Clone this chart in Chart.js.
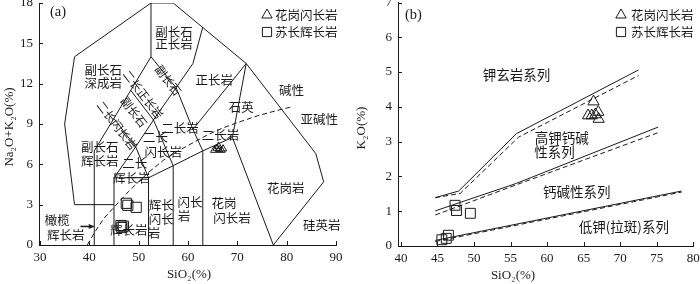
<!DOCTYPE html>
<html>
<head>
<meta charset="utf-8">
<script src="https://cdn.jsdelivr.net/npm/chart.js@4.4.1/dist/chart.umd.min.js"></script>
<style>
  html, body { margin: 0; padding: 0; background: #fff; }
  #wrap { position: relative; width: 700px; height: 284px; }
  .box { position: absolute; top: 0; width: 350px; height: 284px; }
</style>
</head>
<body>
<div id="wrap">
  <div class="box" style="left:0"><canvas id="tas" width="350" height="284"></canvas></div>
  <div class="box" style="left:350px"><canvas id="k2o" width="350" height="284"></canvas></div>
</div>
<script>
// ---------- (a) TAS diagram, [SiO2, Na2O+K2O] ----------
const tasXTicks = [30, 40, 50, 60, 70, 80, 90];
const tasYTicks = [0, 3, 6, 9, 12, 15, 18];

// field boundaries (plutonic TAS)
const tasOuter = [[37, 3], [35, 9], [37, 14], [52.5, 18], [57, 18], [71.8, 13.5], [85.9, 6.8], [87.5, 4.7], [77.3, 0]];
const tasInner = [
  [[37, 3], [45, 3]],
  [[41, 0], [41, 7]],
  [[45, 0], [45, 5]],
  [[52, 0], [52, 5]],
  [[57, 0], [57, 5.9]],
  [[63, 0], [63, 7]],
  [[45, 5], [52, 5], [57, 5.9], [63, 7], [69, 8], [77.3, 0]],
  [[41, 7], [52.5, 14], [52.5, 18]],
  [[45, 5], [49.4, 7.3], [53, 9.3], [57.6, 11.7], [61, 13.5], [63, 16.2]],
  [[45, 9.4], [49.4, 7.3], [52, 5]],
  [[48.4, 11.5], [53, 9.3], [57, 5.9]],
  [[52.5, 14], [57.6, 11.7], [61, 8.6], [63, 7]],
  [[61, 8.6], [71.8, 13.5], [69, 8]]
];
// alkaline / subalkaline divide
const ibSiO2 = [39.6, 41, 43, 45, 48, 50, 52, 55, 58, 61, 64, 67, 70, 74, 78, 81.3];
const ibAlk  = [0, 0.9, 2.0, 2.8, 4.0, 4.7, 5.4, 6.3, 7.0, 7.6, 8.2, 8.7, 9.1, 9.6, 10.0, 10.3];

// samples
const grdSiO2A = [65.3, 65.8, 66.3, 66.8, 66.2, 67.1];
const grdAlkA  = [7.05, 7.2, 7.1, 7.05, 7.35, 7.15];
const gabSiO2A = [47.5, 47.8, 49.5, 46.4, 46.6, 46.9];
const gabAlkA  = [3.1, 2.95, 2.8, 1.45, 1.3, 1.4];

const arrowA = [[38.2, 1.38], [41.1, 1.38]];

const tasLabels = [
  ['副长石', 57.15, 15.85], ['正长岩', 57.15, 14.95],
  ['副长石', 42.8, 13.0], ['深成岩', 42.8, 12.0],
  ['正长岩', 65.3, 12.25],
  ['碱性', 81.0, 11.5], ['亚碱性', 86.6, 9.33],
  ['石英', 70.8, 10.27], ['二长岩', 66.6, 8.17],
  ['二长岩', 58.4, 8.66],
  ['二长', 53.4, 8.04], ['闪长岩', 55.0, 6.93],
  ['副长石', 42.1, 7.3], ['辉长岩', 42.1, 6.2],
  ['二长', 49.2, 6.05], ['辉长岩', 48.6, 4.95],
  ['辉长岩', 48.0, 1.11],
  ['辉长', 54.6, 2.97], ['闪长', 54.6, 1.9], ['岩', 53.1, 0.87],
  ['闪长', 60.4, 3.15], ['岩', 59.2, 2.15],
  ['花岗', 67.3, 3.1], ['闪长岩', 68.9, 1.98],
  ['花岗岩', 79.8, 4.2],
  ['硅英岩', 87.1, 1.48],
  ['橄榄', 33.5, 1.86], ['辉长岩', 35.2, 0.74],
  ['副长石', 56.0, 12.25, 52.5], ['二长正长岩', 50.9, 11.2, 52.5],
  ['副长石', 49.05, 9.9, 52.5], ['二长闪长岩', 45.6, 8.9, 52.5]
];

// ---------- (b) SiO2 - K2O ----------
const kXTicks = [40, 45, 50, 55, 60, 65, 70, 75, 80];
const kYTicks = [0, 1, 2, 3, 4, 5, 6, 7];

const shoSolidX = [44.7, 47.9, 55.8, 72.5];
const shoSolidY = [1.39, 1.58, 3.23, 5.06];
const shoDashX  = [44.7, 48.1, 56.1, 72.5];
const shoDashY  = [1.39, 1.51, 3.13, 4.9];
const hkSolidX  = [44.7, 55.8, 75.2];
const hkSolidY  = [1.01, 1.8, 3.42];
const hkDashX   = [44.7, 55.8, 75.2];
const hkDashY   = [0.89, 1.76, 3.26];
const lowSolidX = [44.7, 78.4];
const lowSolidY = [0.16, 1.58];
const lowDashX  = [44.7, 78.4];
const lowDashY  = [0.13, 1.55];

const grdSiO2B = [66.35, 65.6, 66.1, 66.6, 67.0, 67.05];
const grdK2OB  = [4.15, 3.75, 3.75, 3.78, 3.85, 3.65];
const gabSiO2B = [47.4, 47.6, 49.5, 45.6, 46.2, 46.5];
const gabK2OB  = [1.17, 1.02, 0.94, 0.18, 0.22, 0.31];

const kLabels = [
  ['钾玄岩系列', 55.8, 4.93],
  ['高钾钙碱', 62.0, 3.12], ['性系列', 61.0, 2.7],
  ['钙碱性系列', 64.05, 1.56],
  ['低钾(拉斑)系列', 70.5, 0.55]
];

const legendNames = ['花岗闪长岩', '苏长辉长岩'];

// ---------- helpers ----------
const ink = '#1a1a1a';
const cjk = '"Noto Sans CJK SC", sans-serif';
const serif = '"Liberation Serif", "DejaVu Serif", serif';

function lineSet(xs, ys, dash) {
  return {
    data: xs.map((x, i) => ({ x, y: ys[i] })),
    showLine: true, pointRadius: 0, borderColor: ink, borderWidth: 1,
    borderDash: dash || [], tension: 0, fill: false
  };
}
function polySet(pts, dash) {
  return lineSet(pts.map(p => p[0]), pts.map(p => p[1]), dash);
}
function markSet(xs, ys, style, r) {
  return {
    data: xs.map((x, i) => ({ x, y: ys[i] })),
    showLine: false, pointStyle: style, pointRadius: r, pointBorderWidth: 1,
    borderColor: ink, pointBorderColor: ink, backgroundColor: 'rgba(0,0,0,0)',
    pointBackgroundColor: 'rgba(0,0,0,0)'
  };
}
function axis(min, max, ticks, size, isX) {
  return {
    type: 'linear', min, max,
    afterBuildTicks: s => { s.ticks = ticks.map(v => ({ value: v })); },
    afterFit: s => {
      if (isX) s.height = size; else s.width = size;
      // keep the plot area where it is; edge labels may overhang
      s.paddingTop = 0; s.paddingBottom = 0; s.paddingLeft = 0; s.paddingRight = 0;
    },
    grid: { display: false, drawTicks: false },
    border: { display: true, color: ink, width: 1 },
    ticks: {
      color: ink, padding: isX ? 5 : 6, maxRotation: 0, autoSkip: false,
      font: { family: serif, size: 13 }
    }
  };
}

function decor(cfg) {
  return {
    id: 'decor' + cfg.tag,
    afterDraw(chart) {
      const { ctx, chartArea: a, scales: { x, y } } = chart;
      ctx.save();
      // inward tick marks
      ctx.strokeStyle = ink; ctx.lineWidth = 1;
      ctx.beginPath();
      cfg.xTicks.forEach(v => {
        const p = Math.round(x.getPixelForValue(v)) + 0.5;
        ctx.moveTo(p, a.bottom); ctx.lineTo(p, a.bottom - 4);
      });
      cfg.yTicks.forEach(v => {
        const p = Math.round(y.getPixelForValue(v)) + 0.5;
        ctx.moveTo(a.left, p); ctx.lineTo(a.left + 4, p);
      });
      ctx.stroke();

      // field labels
      ctx.fillStyle = ink; ctx.textAlign = 'center'; ctx.textBaseline = 'middle';
      ctx.font = cfg.labelSize + 'px ' + cjk;
      cfg.labels.forEach(([t, sx, sy, rot]) => {
        const px = x.getPixelForValue(sx), py = y.getPixelForValue(sy);
        if (rot) {
          ctx.save(); ctx.translate(px, py); ctx.rotate(rot * Math.PI / 180);
          ctx.font = (cfg.labelSize - 1) + 'px ' + cjk;
          ctx.fillText(t, 0, 0); ctx.restore();
        } else {
          ctx.fillText(t, px, py);
        }
      });

      // arrow
      if (cfg.arrow) {
        const [p0, p1] = cfg.arrow;
        const x0 = x.getPixelForValue(p0[0]), x1 = x.getPixelForValue(p1[0]);
        const yy = y.getPixelForValue(p0[1]);
        ctx.beginPath(); ctx.lineWidth = 1.5;
        ctx.moveTo(x0, yy); ctx.lineTo(x1 - 4, yy); ctx.stroke();
        ctx.beginPath(); ctx.moveTo(x1, yy); ctx.lineTo(x1 - 6, yy - 2.5); ctx.lineTo(x1 - 6, yy + 2.5);
        ctx.closePath(); ctx.fill();
        ctx.lineWidth = 1;
      }

      // legend (hollow symbols)
      const L = cfg.legend;
      const dp = Chart.helpers && Chart.helpers.drawPoint;
      ['triangle', 'rect'].forEach((st, i) => {
        const ly = L.y + i * L.dy;
        ctx.save();
        ctx.strokeStyle = ink; ctx.lineWidth = 1; ctx.fillStyle = 'rgba(0,0,0,0)';
        if (dp) dp(ctx, { pointStyle: st, radius: st === 'rect' ? 6.5 : 6, borderWidth: 1 }, L.x, ly);
        ctx.restore();
        ctx.textAlign = 'left';
        ctx.font = '12.5px ' + cjk;
        ctx.fillStyle = ink;
        ctx.fillText(legendNames[i], L.tx, ly);
      });

      // panel tag
      ctx.font = '14.5px ' + serif;
      ctx.textAlign = 'left';
      ctx.fillText(cfg.tagText, cfg.tagPos[0], cfg.tagPos[1]);

      // axis titles
      ctx.font = '13px ' + serif;
      ctx.textAlign = 'center';
      ctx.fillText('SiO\u2082(%)', cfg.xTitle[0], cfg.xTitle[1]);
      ctx.save();
      ctx.translate(cfg.yTitle[0], cfg.yTitle[1]); ctx.rotate(-Math.PI / 2);
      ctx.fillText(cfg.yTitleText, 0, 0);
      ctx.restore();
      ctx.restore();
    }
  };
}

const commonPlugins = { legend: { display: false }, tooltip: { enabled: false } };

// ---------- chart (a) ----------
new Chart(document.getElementById('tas'), {
  type: 'scatter',
  data: {
    datasets: [
      polySet(tasOuter),
      ...tasInner.map(seg => polySet(seg)),
      lineSet(ibSiO2, ibAlk, [5, 3]),
      markSet(grdSiO2A, grdAlkA, 'triangle', 4.2),
      markSet(gabSiO2A, gabAlkA, 'rect', 7.2)
    ]
  },
  options: {
    responsive: false, animation: false,
    layout: { padding: { left: 0, top: 3, right: 14, bottom: 0 }, autoPadding: false },
    plugins: commonPlugins,
    scales: {
      x: axis(29.8, 90, tasXTicks, 39, true),
      y: axis(0, 18, tasYTicks, 39, false)
    }
  },
  plugins: [decor({
    tag: 'A', xTicks: tasXTicks, yTicks: tasYTicks, labels: tasLabels, labelSize: 12.5,
    arrow: arrowA,
    legend: { x: 267, y: 15, dy: 17, tx: 275 },
    tagText: '(a)', tagPos: [50, 12],
    xTitle: [189, 275], yTitle: [10, 127], yTitleText: 'Na\u2082O+K\u2082O(%)'
  })]
});

// ---------- chart (b) ----------
new Chart(document.getElementById('k2o'), {
  type: 'scatter',
  data: {
    datasets: [
      lineSet(shoSolidX, shoSolidY),
      lineSet(shoDashX, shoDashY, [5, 3]),
      lineSet(hkSolidX, hkSolidY),
      lineSet(hkDashX, hkDashY, [5, 3]),
      lineSet(lowSolidX, lowSolidY),
      lineSet(lowDashX, lowDashY, [5, 3]),
      markSet(grdSiO2B, grdK2OB, 'triangle', 6.5),
      markSet(gabSiO2B, gabK2OB, 'rect', 7)
    ]
  },
  options: {
    responsive: false, animation: false,
    layout: { padding: { left: 0, top: 2.5, right: 6.7, bottom: 0 }, autoPadding: false },
    plugins: commonPlugins,
    scales: {
      x: axis(39.6, 80, kXTicks, 38, true),
      y: axis(0, 7, kYTicks, 48, false)
    }
  },
  plugins: [decor({
    tag: 'B', xTicks: kXTicks, yTicks: kYTicks, labels: kLabels, labelSize: 13.5,
    legend: { x: 271, y: 15, dy: 17, tx: 281 },
    tagText: '(b)', tagPos: [55, 15],
    xTitle: [163, 276], yTitle: [12, 128], yTitleText: 'K\u2082O(%)'
  })]
});
</script>
</body>
</html>
